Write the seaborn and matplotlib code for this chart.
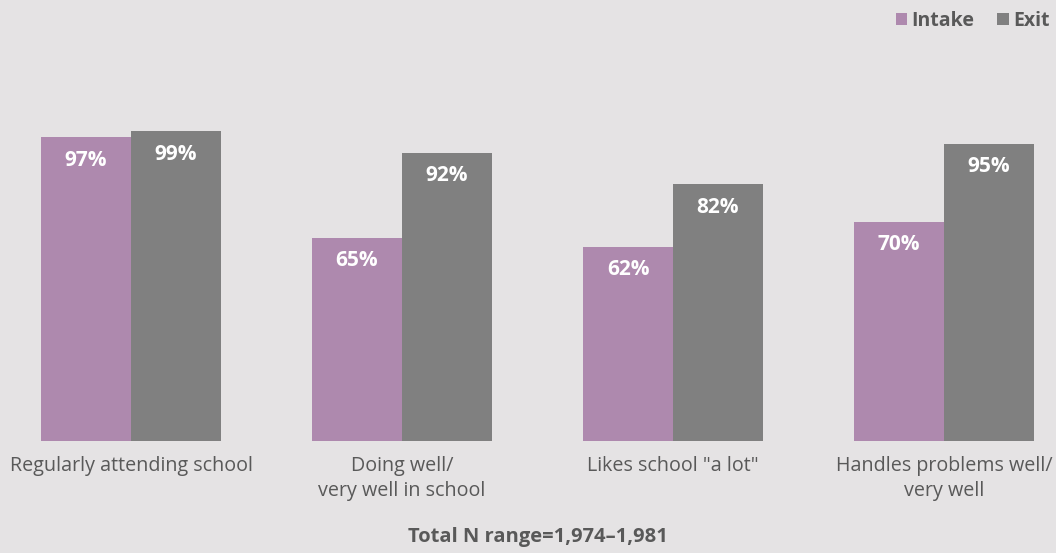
import matplotlib
matplotlib.use("Agg")
import matplotlib.pyplot as plt
import seaborn as sns
import pandas as pd
from matplotlib.patches import Patch

categories = ["Regularly attending school", "Doing well/\nvery well in school",
              "Likes school \"a lot\"", "Handles problems well/\nvery well"]
intake = [97, 65, 62, 70]
exit_ = [99, 92, 82, 95]
series = ["Intake", "Exit"]
footer = "Total N range=1,974\u20131,981"

BG = "#e5e3e4"
PURPLE = "#ae89ae"
GRAY = "#808080"
TEXT = "#595959"

sns.set_theme(style="white")
plt.rcParams["font.family"] = ["Open Sans", "DejaVu Sans"]

df = pd.DataFrame({
    "Category": categories * 2,
    "Stage": [series[0]] * 4 + [series[1]] * 4,
    "Value": intake + exit_,
})

fig = plt.figure(figsize=(10.56, 5.53), dpi=100, facecolor=BG)
ax = fig.add_axes([0.0, (553 - 441) / 553, 1.0, 313 / 553])
ax.set_facecolor(BG)

sns.barplot(data=df, x="Category", y="Value", hue="Stage", order=categories,
            hue_order=series, palette=[PURPLE, GRAY], width=0.664, gap=0,
            saturation=1, ax=ax, legend=False, linewidth=0)

ax.set_xlim(-131 / 271, (1056 - 131) / 271)
ax.set_ylim(0, 100)
for s in ax.spines.values():
    s.set_visible(False)
ax.set_yticks([])
ax.set_xlabel("")
ax.set_ylabel("")
ax.tick_params(axis="x", length=0, pad=11, labelsize=14.2, labelcolor=TEXT)
for t in ax.get_xticklabels():
    t.set_linespacing(1.3)

for p in ax.patches:
    h = p.get_height()
    if h <= 0:
        continue
    ax.annotate(f"{h:.0f}%", xy=(p.get_x() + p.get_width() / 2, h),
                xytext=(0, -16.5), textcoords="offset points",
                ha="center", va="center", color="white",
                fontsize=15, fontweight="bold")

handles = [Patch(facecolor=PURPLE, edgecolor="none"), Patch(facecolor=GRAY, edgecolor="none")]
fig.legend(handles, series, loc="upper right", bbox_to_anchor=(1.004, 1.0),
           ncol=2, frameon=False, handlelength=0.6, handleheight=0.6,
           handletextpad=0.2, columnspacing=1.2, borderaxespad=0.15,
           prop={"weight": "bold", "size": 14}, labelcolor=TEXT)

fig.text(538 / 1056, (553 - 537) / 553, footer, ha="center", va="center",
         fontsize=14.5, fontweight="bold", color=TEXT)

fig.savefig("out.png", dpi=100, facecolor=BG)
